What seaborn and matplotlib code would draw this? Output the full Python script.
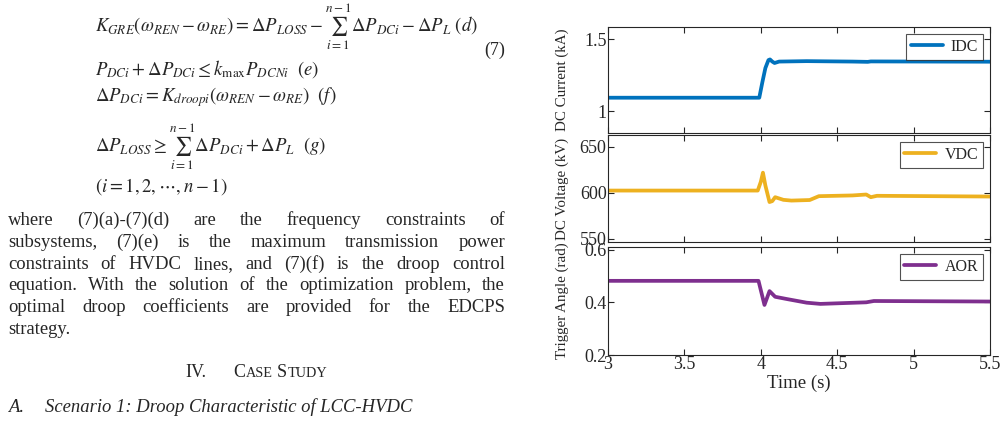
import matplotlib
matplotlib.use("Agg")
import matplotlib.pyplot as plt
import seaborn as sns
import pandas as pd

# Data
t_idc = [3.0, 3.99, 4.01, 4.03, 4.05, 4.06, 4.075, 4.09, 4.12, 4.3, 4.6, 4.7, 4.72, 5.5]
idc = [1.093, 1.093, 1.20, 1.30, 1.355, 1.36, 1.345, 1.335, 1.345, 1.348, 1.345, 1.343, 1.346, 1.344]

t_vdc = [3.0, 3.98, 4.0, 4.014, 4.03, 4.057, 4.075, 4.094, 4.148, 4.2, 4.32, 4.38, 4.6, 4.69, 4.72, 4.76, 5.5]
vdc = [602.5, 602.5, 612, 622, 608, 590, 591, 595.3, 592.4, 591.6, 592.2, 596.4, 597.2, 598.2, 595.3, 596.8, 596.0]

t_aor = [3.0, 3.985, 4.024, 4.057, 4.094, 4.17, 4.30, 4.39, 4.69, 4.74, 5.5]
aor = [0.4815, 0.4815, 0.39, 0.4426, 0.421, 0.4125, 0.3986, 0.394, 0.40, 0.405, 0.403]

x_ticks = [3, 3.5, 4, 4.5, 5, 5.5]
x_tick_labels = ["3", "3.5", "4", "4.5", "5", "5.5"]

panels = [
    dict(t=t_idc, y=idc, name="IDC", color="#0072BD", ylabel="DC Current (kA)",
         ylim=(0.847, 1.586), yticks=[1, 1.5], ylabels=["1", "1.5"]),
    dict(t=t_vdc, y=vdc, name="VDC", color="#EDB120", ylabel="DC Voltage (kV)",
         ylim=(546.5, 663), yticks=[550, 600, 650], ylabels=["550", "600", "650"]),
    dict(t=t_aor, y=aor, name="AOR", color="#7E2F8E", ylabel="Trigger Angle (rad)",
         ylim=(0.2, 0.61), yticks=[0.2, 0.4, 0.6], ylabels=["0.2", "0.4", "0.6"]),
]

sns.set_style("ticks")
plt.rcParams["font.family"] = ["Liberation Serif", "DejaVu Serif"]
plt.rcParams["mathtext.fontset"] = "stix"

W, H = 1008, 424
fig = plt.figure(figsize=(W / 100, H / 100), dpi=100)

# axes boxes in pixels (top, bottom)
boxes = [(27, 133), (135, 242), (247, 355)]
left_px, right_px = 608, 990

for i, (p, (top, bot)) in enumerate(zip(panels, boxes)):
    ax = fig.add_axes([left_px / W, 1 - bot / H, (right_px - left_px) / W, (bot - top) / H])
    df = pd.DataFrame({"t": p["t"], "v": p["y"]})
    sns.lineplot(data=df, x="t", y="v", ax=ax, color=p["color"], linewidth=2.7,
                 label=p["name"], estimator=None, sort=False)
    ax.set_xlim(3, 5.5)
    ax.set_ylim(*p["ylim"])
    ax.set_yticks(p["yticks"])
    ax.set_yticklabels(p["ylabels"])
    ax.set_xticks(x_ticks)
    if i == 2:
        ax.set_xticklabels(x_tick_labels)
        ax.set_xlabel("Time (s)", fontsize=13.5, labelpad=1, color="#262626")
    else:
        ax.set_xticklabels([])
        ax.set_xlabel("")
    ax.set_ylabel(p["ylabel"], fontsize=10.8, color="#262626")
    ax.yaxis.set_label_coords(-0.102, 0.5)
    ax.tick_params(direction="in", top=True, right=True, length=4, width=0.8,
                   labelsize=13, colors="#262626", pad=1)
    for s in ax.spines.values():
        s.set_visible(True)
        s.set_color("#262626")
        s.set_linewidth(0.8)
    leg = ax.legend(loc="upper right", fontsize=11.5, frameon=True, fancybox=False,
                    handlelength=2.0, borderpad=0.3, handletextpad=0.5,
                    borderaxespad=0.45)
    leg.get_frame().set_edgecolor("#262626")
    leg.get_frame().set_linewidth(0.8)

# ---- left column of the page: equations and text ----
def px(x, y):
    return x / W, 1 - y / H

eq_size = 13.5
fig.text(*px(95, 31.7), r"$K_{GRE}(\omega_{REN}-\omega_{RE})=\Delta P_{LOSS}-\sum_{i=1}^{n-1}\Delta P_{DCi}-\Delta P_{L}\ (d)$",
         fontsize=eq_size, va="baseline")
fig.text(*px(505, 55), "(7)", fontsize=13, va="baseline", ha="right")
fig.text(*px(95, 75), r"$P_{DCi}+\Delta P_{DCi}\leq k_{\max}P_{DCNi}\ \ (e)$", fontsize=eq_size, va="baseline")
fig.text(*px(95, 101.7), r"$\Delta P_{DCi}=K_{droopi}(\omega_{REN}-\omega_{RE})\ \ (f)$", fontsize=eq_size, va="baseline")
fig.text(*px(95, 151.7), r"$\Delta P_{LOSS}\geq\sum_{i=1}^{n-1}\Delta P_{DCi}+\Delta P_{L}\ \ (g)$", fontsize=eq_size, va="baseline")
fig.text(*px(95, 191.7), r"$(i=1,2,\cdots,n-1)$", fontsize=eq_size, va="baseline")

para = [
    "where (7)(a)-(7)(d) are the frequency constraints of",
    "subsystems, (7)(e) is the maximum transmission power",
    "constraints of HVDC lines, and (7)(f) is the droop control",
    "equation. With the solution of the optimization problem, the",
    "optimal droop coefficients are provided for the EDCPS",
    "strategy.",
]
renderer = fig.canvas.get_renderer()
x0, x1 = 8, 505
y0, dy = 225, 21.8
txt_size = 13.4
for k, line in enumerate(para):
    words = line.split()
    objs = [fig.text(0, 0, w, fontsize=txt_size, va="baseline") for w in words]
    widths = [o.get_window_extent(renderer).width for o in objs]
    if k == len(para) - 1 or len(words) == 1:
        gap = 4.5
    else:
        gap = (x1 - x0 - sum(widths)) / (len(words) - 1)
    x = x0
    for o, w in zip(objs, widths):
        o.set_position(px(x, y0 + k * dy))
        x += w + gap


def small_caps(x, y, parts):
    # parts: list of (string, size); placed one after another
    for s, size in parts:
        o = fig.text(*px(x, y), s, fontsize=size, va="baseline")
        x += o.get_window_extent(renderer).width + 0.4
    return x


fig.text(*px(185, 376.7), "IV.", fontsize=13, va="baseline")
end = small_caps(233, 376.7, [("C", 13), ("ASE", 10.3)])
small_caps(end + 4, 376.7, [("S", 13), ("TUDY", 10.3)])
fig.text(*px(8, 411.7), "A.", fontsize=13.4, va="baseline", style="italic")
fig.text(*px(45, 411.7), "Scenario 1: Droop Characteristic of LCC-HVDC", fontsize=13.4,
         va="baseline", style="italic")

fig.savefig("out.png", dpi=100)
